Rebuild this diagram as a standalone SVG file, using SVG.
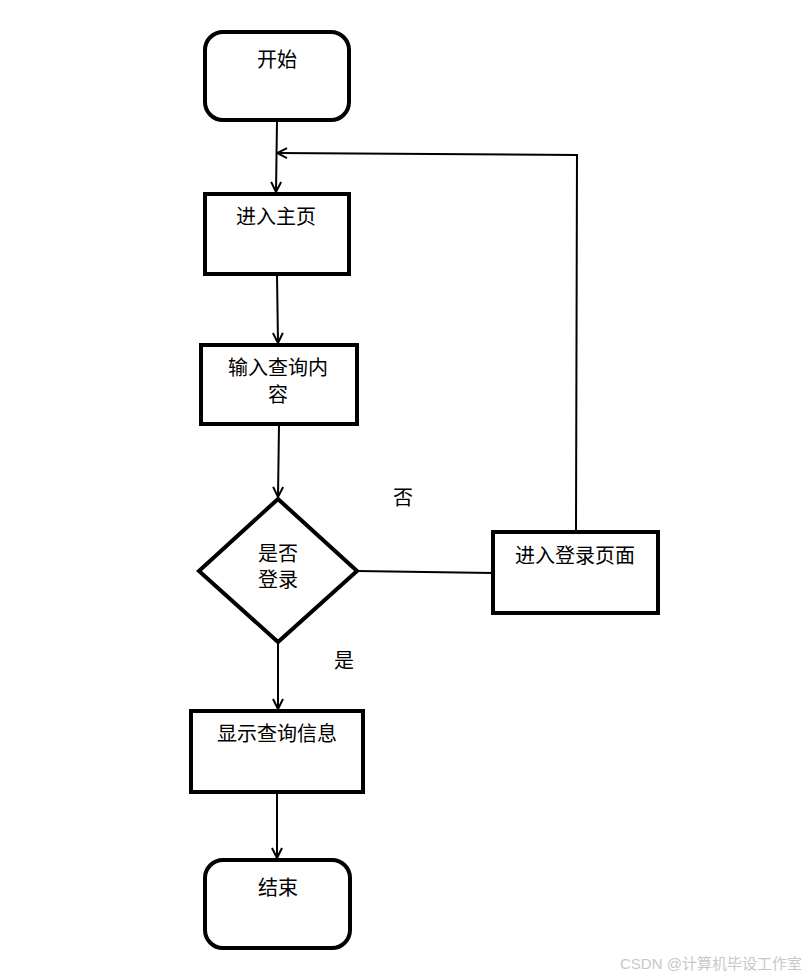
<svg xmlns="http://www.w3.org/2000/svg" width="811" height="979" viewBox="0 0 811 979">
<style>
.box{fill:#fff;stroke:#000;stroke-width:4}
.t{font-family:"Liberation Serif","Noto Sans CJK SC",serif;font-size:20px;fill:#000;text-anchor:middle}
.c{fill:none;stroke:#000;stroke-width:2}
.wm{font-family:"Liberation Sans","Noto Sans CJK SC",sans-serif;font-size:15px;fill:#c8c8c8}
</style>
<defs>
<marker id="arr" viewBox="0 0 12 12" refX="11" refY="6" markerWidth="12" markerHeight="12" markerUnits="userSpaceOnUse" orient="auto">
<path d="M1,1 L11,6 L1,11" fill="none" stroke="#000" stroke-width="2"/>
</marker>
</defs>
<rect width="811" height="979" fill="#fff"/>
<g id="connectors">
<path class="c" d="M277,121 L276,192" marker-end="url(#arr)"/>
<path class="c" d="M576,531 L577,155 L277,153" marker-end="url(#arr)"/>
<path class="c" d="M277,275 L278,343" marker-end="url(#arr)"/>
<path class="c" d="M279,425 L278,497" marker-end="url(#arr)"/>
<path class="c" d="M357,571 L493,573"/>
<path class="c" d="M278,643 L278,709" marker-end="url(#arr)"/>
<path class="c" d="M277,793 L277,858" marker-end="url(#arr)"/>
<text class="t" x="403" y="505">否</text>
<text class="t" x="344" y="668">是</text>
</g>
<g id="start">
<rect class="box" x="205" y="32" width="144" height="88" rx="18"/>
<text class="t" x="277" y="67">开始</text>
</g>
<g id="home">
<rect class="box" x="205" y="194" width="144" height="80"/>
<text class="t" x="276" y="224">进入主页</text>
</g>
<g id="input">
<rect class="box" x="201" y="345" width="156" height="79"/>
<text class="t" x="278" y="375">输入查询内</text>
<text class="t" x="278" y="402">容</text>
</g>
<g id="decision">
<polygon class="box" points="278,499 357,571 278,642 199,571"/>
<text class="t" x="278" y="561">是否</text>
<text class="t" x="278" y="587">登录</text>
</g>
<g id="login">
<rect class="box" x="493" y="532" width="165" height="81"/>
<text class="t" x="575" y="563">进入登录页面</text>
</g>
<g id="show">
<rect class="box" x="191" y="711" width="172" height="81"/>
<text class="t" x="277" y="741">显示查询信息</text>
</g>
<g id="end">
<rect class="box" x="205" y="860" width="145" height="88" rx="18"/>
<text class="t" x="278" y="895">结束</text>
</g>
<text class="wm" x="620" y="969">CSDN @计算机毕设工作室</text>
</svg>
